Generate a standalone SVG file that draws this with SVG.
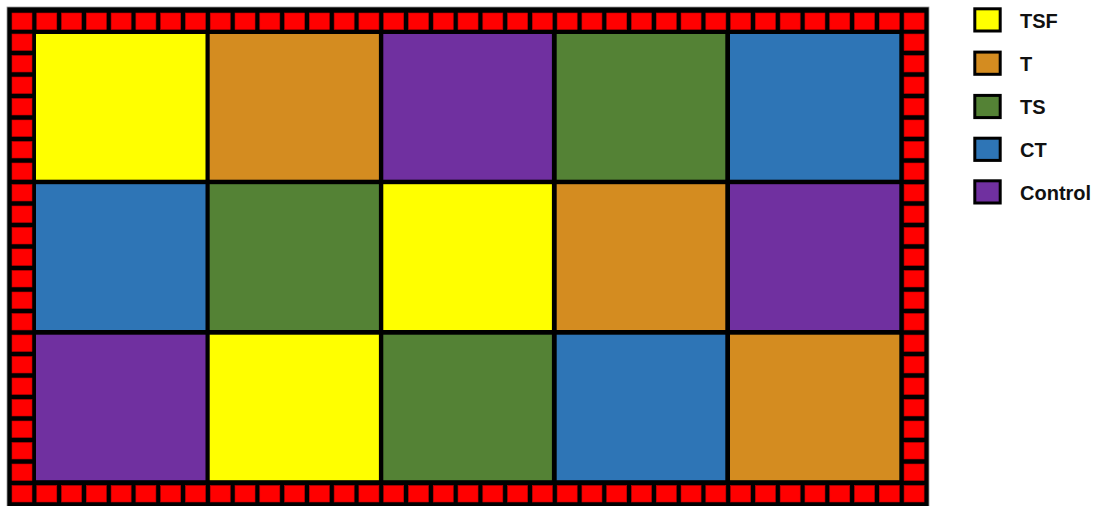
<svg xmlns="http://www.w3.org/2000/svg" xmlns:xlink="http://www.w3.org/1999/xlink" width="1103" height="506" viewBox="0 0 1103 506">
<style>
.r{fill:#FF0000;stroke:#C00000;stroke-width:0.6}
.c{stroke:none}
.y{fill:#FFFF00}.o{fill:#D48C20}.g{fill:#548235}.b{fill:#2E75B6}.p{fill:#7030A0}
.lb{stroke:#000;stroke-width:3}
.lt{font-family:"Liberation Sans",Arial,sans-serif;font-weight:bold;font-size:20px;fill:#111}
</style>
<defs>
<rect id="h" class="r" width="20" height="16.5"/>
</defs>
<g id="field">
<rect x="7" y="7" width="922" height="500" fill="#000" stroke="#999" stroke-width="0.8"/>
<g id="border">
<g id="toprow" transform="translate(0,13)">
<use xlink:href="#h" x="12"/><use xlink:href="#h" x="36.78"/><use xlink:href="#h" x="61.56"/><use xlink:href="#h" x="86.34"/><use xlink:href="#h" x="111.12"/><use xlink:href="#h" x="135.9"/><use xlink:href="#h" x="160.68"/><use xlink:href="#h" x="185.46"/><use xlink:href="#h" x="210.24"/><use xlink:href="#h" x="235.02"/><use xlink:href="#h" x="259.8"/><use xlink:href="#h" x="284.58"/><use xlink:href="#h" x="309.36"/><use xlink:href="#h" x="334.14"/><use xlink:href="#h" x="358.92"/><use xlink:href="#h" x="383.7"/><use xlink:href="#h" x="408.48"/><use xlink:href="#h" x="433.26"/><use xlink:href="#h" x="458.04"/><use xlink:href="#h" x="482.82"/><use xlink:href="#h" x="507.6"/><use xlink:href="#h" x="532.38"/><use xlink:href="#h" x="557.16"/><use xlink:href="#h" x="581.94"/><use xlink:href="#h" x="606.72"/><use xlink:href="#h" x="631.5"/><use xlink:href="#h" x="656.28"/><use xlink:href="#h" x="681.06"/><use xlink:href="#h" x="705.84"/><use xlink:href="#h" x="730.62"/><use xlink:href="#h" x="755.4"/><use xlink:href="#h" x="780.18"/><use xlink:href="#h" x="804.96"/><use xlink:href="#h" x="829.74"/><use xlink:href="#h" x="854.52"/><use xlink:href="#h" x="879.3"/><use xlink:href="#h" x="904.08"/>
</g>
<g id="bottomrow" transform="translate(0,485.5)">
<use xlink:href="#h" x="12"/><use xlink:href="#h" x="36.78"/><use xlink:href="#h" x="61.56"/><use xlink:href="#h" x="86.34"/><use xlink:href="#h" x="111.12"/><use xlink:href="#h" x="135.9"/><use xlink:href="#h" x="160.68"/><use xlink:href="#h" x="185.46"/><use xlink:href="#h" x="210.24"/><use xlink:href="#h" x="235.02"/><use xlink:href="#h" x="259.8"/><use xlink:href="#h" x="284.58"/><use xlink:href="#h" x="309.36"/><use xlink:href="#h" x="334.14"/><use xlink:href="#h" x="358.92"/><use xlink:href="#h" x="383.7"/><use xlink:href="#h" x="408.48"/><use xlink:href="#h" x="433.26"/><use xlink:href="#h" x="458.04"/><use xlink:href="#h" x="482.82"/><use xlink:href="#h" x="507.6"/><use xlink:href="#h" x="532.38"/><use xlink:href="#h" x="557.16"/><use xlink:href="#h" x="581.94"/><use xlink:href="#h" x="606.72"/><use xlink:href="#h" x="631.5"/><use xlink:href="#h" x="656.28"/><use xlink:href="#h" x="681.06"/><use xlink:href="#h" x="705.84"/><use xlink:href="#h" x="730.62"/><use xlink:href="#h" x="755.4"/><use xlink:href="#h" x="780.18"/><use xlink:href="#h" x="804.96"/><use xlink:href="#h" x="829.74"/><use xlink:href="#h" x="854.52"/><use xlink:href="#h" x="879.3"/><use xlink:href="#h" x="904.08"/>
</g>
<g id="leftcol" transform="translate(12,0)">
<use xlink:href="#h" y="34"/><use xlink:href="#h" y="55.5"/><use xlink:href="#h" y="77"/><use xlink:href="#h" y="98.5"/><use xlink:href="#h" y="120"/><use xlink:href="#h" y="141.5"/><use xlink:href="#h" y="163"/><use xlink:href="#h" y="184.5"/><use xlink:href="#h" y="206"/><use xlink:href="#h" y="227.5"/><use xlink:href="#h" y="249"/><use xlink:href="#h" y="270.5"/><use xlink:href="#h" y="292"/><use xlink:href="#h" y="313.5"/><use xlink:href="#h" y="335"/><use xlink:href="#h" y="356.5"/><use xlink:href="#h" y="378"/><use xlink:href="#h" y="399.5"/><use xlink:href="#h" y="421"/><use xlink:href="#h" y="442.5"/><use xlink:href="#h" y="464"/>
</g>
<g id="rightcol" transform="translate(904.08,0)">
<use xlink:href="#h" y="34"/><use xlink:href="#h" y="55.5"/><use xlink:href="#h" y="77"/><use xlink:href="#h" y="98.5"/><use xlink:href="#h" y="120"/><use xlink:href="#h" y="141.5"/><use xlink:href="#h" y="163"/><use xlink:href="#h" y="184.5"/><use xlink:href="#h" y="206"/><use xlink:href="#h" y="227.5"/><use xlink:href="#h" y="249"/><use xlink:href="#h" y="270.5"/><use xlink:href="#h" y="292"/><use xlink:href="#h" y="313.5"/><use xlink:href="#h" y="335"/><use xlink:href="#h" y="356.5"/><use xlink:href="#h" y="378"/><use xlink:href="#h" y="399.5"/><use xlink:href="#h" y="421"/><use xlink:href="#h" y="442.5"/><use xlink:href="#h" y="464"/>
</g>
</g>
<g id="plots">
<rect class="c y" x="36" y="34" width="169.5" height="145.7"/>
<rect class="c o" x="209.7" y="34" width="169.2" height="145.7"/>
<rect class="c p" x="383.3" y="34" width="168.6" height="145.7"/>
<rect class="c g" x="556.7" y="34" width="168.6" height="145.7"/>
<rect class="c b" x="730" y="34" width="169.3" height="145.7"/>
<rect class="c b" x="36" y="184.2" width="169.5" height="145.8"/>
<rect class="c g" x="209.7" y="184.2" width="169.2" height="145.8"/>
<rect class="c y" x="383.3" y="184.2" width="168.6" height="145.8"/>
<rect class="c o" x="556.7" y="184.2" width="168.6" height="145.8"/>
<rect class="c p" x="730" y="184.2" width="169.3" height="145.8"/>
<rect class="c p" x="36" y="334.7" width="169.5" height="145.5"/>
<rect class="c y" x="209.7" y="334.7" width="169.2" height="145.5"/>
<rect class="c g" x="383.3" y="334.7" width="168.6" height="145.5"/>
<rect class="c b" x="556.7" y="334.7" width="168.6" height="145.5"/>
<rect class="c o" x="730" y="334.7" width="169.3" height="145.5"/>
</g>
</g>
<g id="legend">
<g id="leg-tsf"><rect class="lb y" x="974.8" y="8.8" width="25.4" height="22.2"/><text class="lt" x="1020" y="27.5">TSF</text></g>
<g id="leg-t"><rect class="lb o" x="974.8" y="52.1" width="25.4" height="22.2"/><text class="lt" x="1020" y="70.8">T</text></g>
<g id="leg-ts"><rect class="lb g" x="974.8" y="95.4" width="25.4" height="22.2"/><text class="lt" x="1020" y="114.1">TS</text></g>
<g id="leg-ct"><rect class="lb b" x="974.8" y="138.2" width="25.4" height="22.2"/><text class="lt" x="1020" y="156.9">CT</text></g>
<g id="leg-control"><rect class="lb p" x="974.8" y="180.8" width="25.4" height="22.2"/><text class="lt" x="1020" y="199.7">Control</text></g>
</g>
</svg>
